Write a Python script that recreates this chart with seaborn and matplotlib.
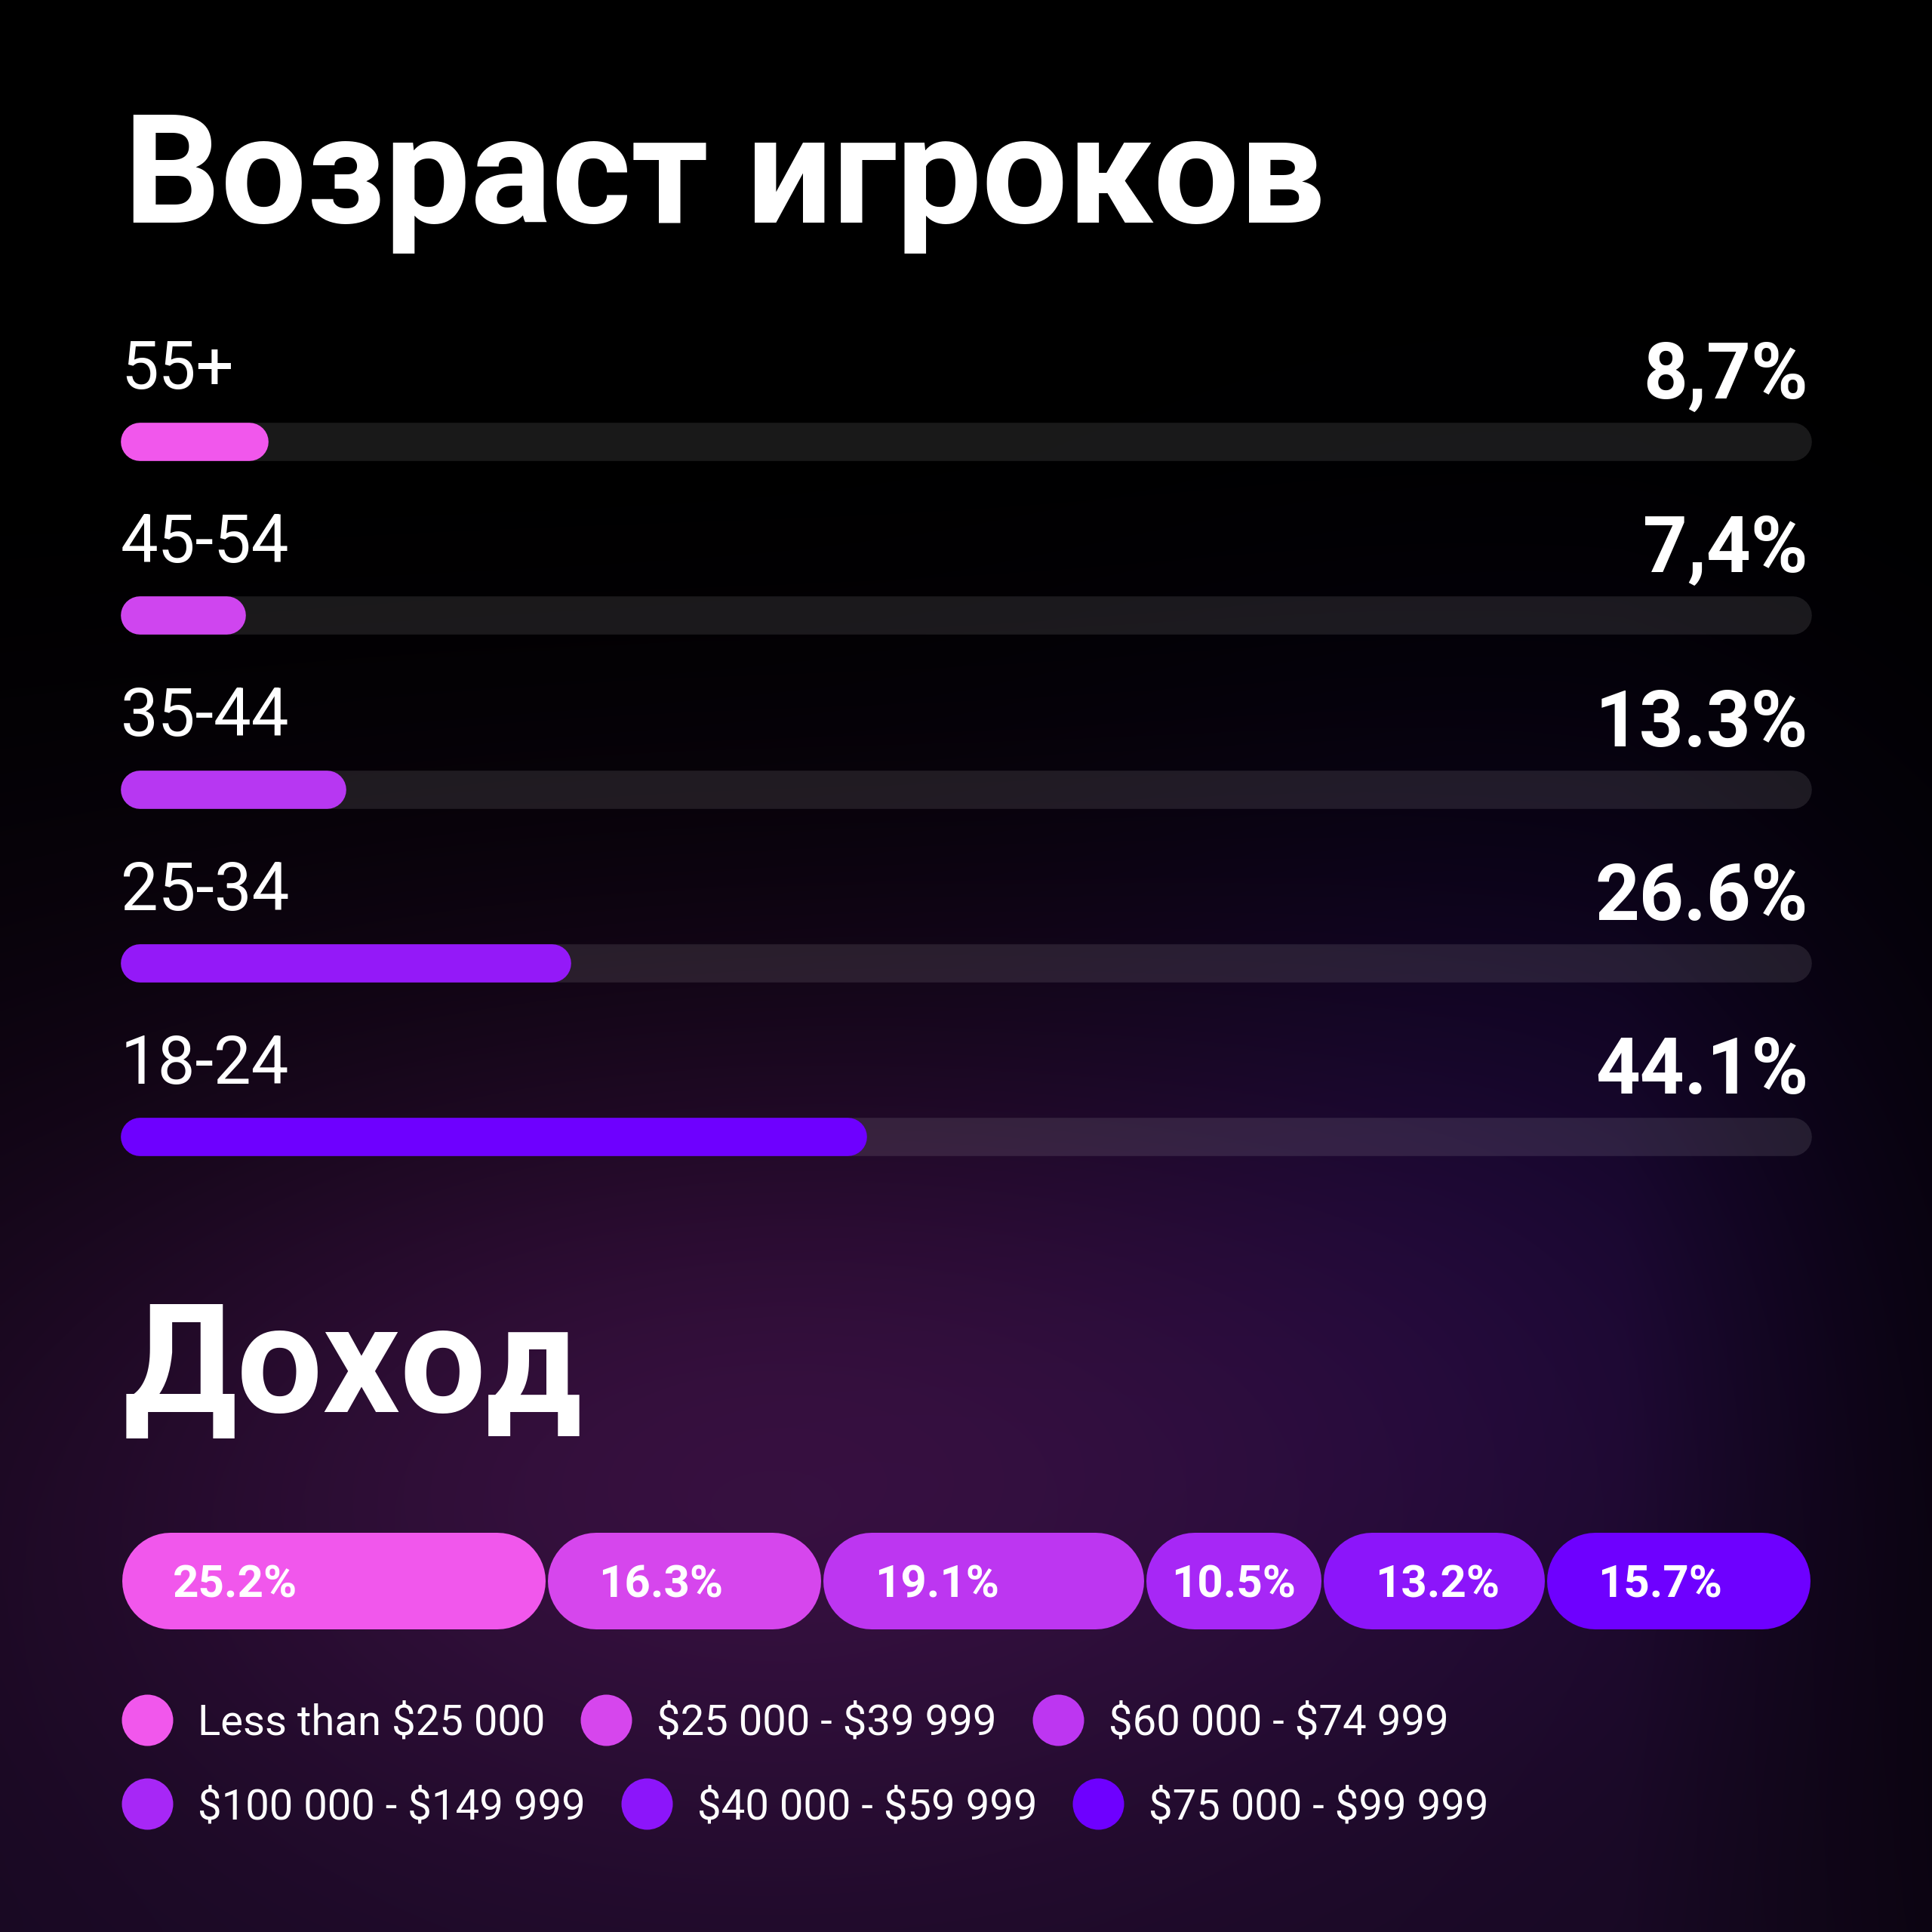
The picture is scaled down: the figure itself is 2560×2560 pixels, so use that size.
import numpy as np
import matplotlib.pyplot as plt
import seaborn as sns

# Age data
age_groups = ["55+", "45-54", "35-44", "25-34", "18-24"]
age_share = [8.7, 7.4, 13.3, 26.6, 44.1]
age_labels = ["8,7%", "7,4%", "13.3%", "26.6%", "44.1%"]
age_colors = ["#f157ec", "#cf45ef", "#b737f2", "#9419f8", "#6e00ff"]

# Income data (segment order = legend order)
income_groups = ["Less than $25 000", "$25 000 - $39 999", "$60 000 - $74 999",
                 "$100 000 - $149 999", "$40 000 - $59 999", "$75 000 - $99 999"]
income_share = [25.2, 16.3, 19.1, 10.5, 13.2, 15.7]
income_labels = ["25.2%", "16.3%", "19.1%", "10.5%", "13.2%", "15.7%"]
income_colors = ["#f157ec", "#d646ed", "#bd36f1", "#a727f6", "#8c15fa", "#6e00ff"]

W = 2560
DPI = 250
PT = DPI / 72  # pixels per point
FONT = "Roboto"

fig = plt.figure(figsize=(W / DPI, W / DPI), dpi=DPI)
fig.patch.set_facecolor("black")


def px_axes(left, top, right, bottom):
    return fig.add_axes([left / W, 1 - bottom / W, (right - left) / W, (bottom - top) / W])


def round_patches(ax, px_per_x, px_per_y, shrink_px=0.0):
    # redraw the library's rectangles as pills (round caps = true semicircles)
    for p in list(ax.patches):
        x, y = p.get_xy()
        w, h = p.get_width(), abs(p.get_height())
        h_px = h * px_per_y
        r = (h_px / 2 + shrink_px) / px_per_x
        yc = y + p.get_height() / 2
        ax.plot([x + r, x + w - r], [yc, yc], color=p.get_facecolor(),
                lw=h_px / PT, solid_capstyle="round", zorder=p.get_zorder(),
                clip_on=False)
        p.remove()


# Background
bg = fig.add_axes([0, 0, 1, 1])
n = 640
xs = (np.arange(n) + 0.5) * W / n
X, Y = np.meshgrid(xs, xs)
t = np.clip((Y - 600) / 1960, 0, 1) ** 1.3
img = t[..., None] * np.array([20, 8, 30])
g1 = np.exp(-((X - 1000) ** 2) / (2 * 750 ** 2) - ((Y - 1920) ** 2) / (2 * 420 ** 2))
g2 = np.exp(-((X - 2050) ** 2 + (Y - 1600) ** 2) / (2 * 450 ** 2))
img = img + g1[..., None] * np.array([42, 11, 44]) + g2[..., None] * np.array([8, 2, 26])
img *= (1 - 0.45 * np.clip((X - 2150) / 410, 0, 1))[..., None]
bg.imshow(np.clip(img / 255, 0, 1), extent=(0, W, W, 0), origin="upper",
          interpolation="bilinear", aspect="auto")
bg.set_xlim(0, W)
bg.set_ylim(W, 0)
bg.axis("off")

# Titles
bg.text(164, 295, "Возраст игроков", color="white", fontsize=58, fontweight="bold",
        family=FONT, va="baseline", ha="left")
bg.text(164, 1871, "Доход", color="white", fontsize=58, fontweight="bold",
        family=FONT, va="baseline", ha="left")

# Age bars
ax_age = px_axes(160, 470, 2400, 1621)
sns.barplot(x=[100] * len(age_groups), y=age_groups, color="white", alpha=0.1,
            width=0.22, linewidth=0, ax=ax_age)
sns.barplot(x=age_share, y=age_groups, hue=age_groups, palette=age_colors,
            legend=False, width=0.22, linewidth=0, saturation=1, ax=ax_age)
ax_age.set_xlim(0, 100)
ax_age.set_ylim(len(age_groups) - 0.5, -0.5)
ax_age.axis("off")
round_patches(ax_age, 2240 / 100, 1151 / len(age_groups))

for i, (g, lab) in enumerate(zip(age_groups, age_labels)):
    ax_age.annotate(g, xy=(0, i), xytext=(0, 70), textcoords="offset pixels",
                    ha="left", va="baseline", color="white", fontsize=25.5,
                    family=FONT, annotation_clip=False)
    ax_age.annotate(lab, xy=(100, i), xytext=(-4, 57), textcoords="offset pixels",
                    ha="right", va="baseline", color="white", fontsize=29.6,
                    fontweight="bold", family=FONT, annotation_clip=False)

# Income stacked pills
ax_inc = px_axes(160, 1967, 2400, 2223)
starts = np.cumsum([0] + income_share[:-1])
ax_inc.barh(0, income_share, left=starts, height=1, color=income_colors, linewidth=0)
ax_inc.set_xlim(0, 100)
ax_inc.set_ylim(-1, 1)
ax_inc.axis("off")
round_patches(ax_inc, 2240 / 100, 256 / 2, shrink_px=1.5)

renderer = fig.canvas.get_renderer()
for s, v, lab in zip(starts, income_share, income_labels):
    t_lab = ax_inc.annotate(lab, xy=(s, 0), xytext=(69, -21.5), textcoords="offset pixels",
                            ha="left", va="baseline", color="white", fontsize=17.3,
                            fontweight="bold", family=FONT, annotation_clip=False)
    tw = t_lab.get_window_extent(renderer).width
    seg_px = v * 2240 / 100
    if 69 + tw > seg_px - 40:
        # narrow pill: centre the label
        t_lab.set_position(((seg_px - tw) / 2, -21.5))

# Legend (flow layout, 3 per row)
row_y = [2279, 2390]
dot = 68
for r, yc in enumerate(row_y):
    x = 161
    for k in range(3):
        idx = r * 3 + k
        bg.scatter([x + dot / 2], [yc], s=(dot / PT) ** 2, color=income_colors[idx],
                   linewidths=0, zorder=3)
        txt = bg.text(x + dot + 33, yc + 20, income_groups[idx], color="white",
                      fontsize=16.2, family=FONT, parse_math=False,
                      va="baseline", ha="left")
        x = x + dot + 33 + txt.get_window_extent(renderer).width + 47

fig.savefig("out.png", dpi=DPI, facecolor=fig.get_facecolor())
